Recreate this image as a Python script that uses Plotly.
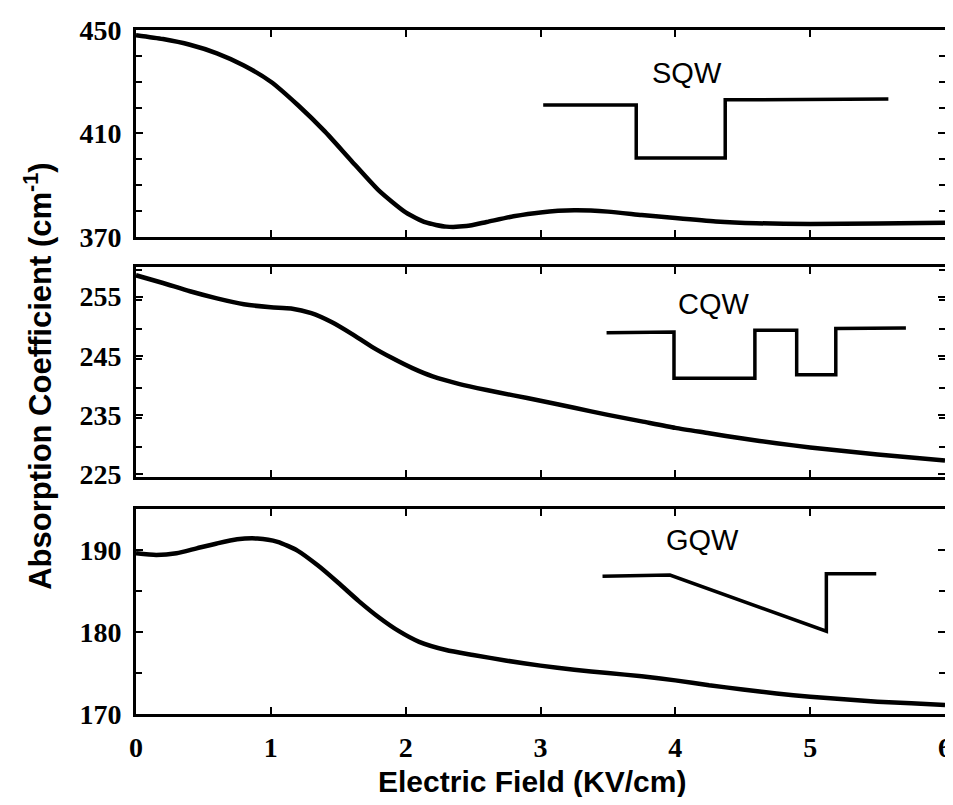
"""Electroabsorption vs electric field for three quantum-well profiles (SQW / CQW / GQW)."""

import plotly.graph_objects as go

# ---------------------------------------------------------------------------
# Data
# ---------------------------------------------------------------------------

field_sqw = [0.0, 0.2, 0.4, 0.6, 0.8, 1.0, 1.2, 1.4, 1.6, 1.8, 2.0, 2.15, 2.3, 2.45,
             2.6, 2.8, 3.0, 3.25, 3.5, 3.75, 4.0, 4.3, 4.6, 5.0, 5.5, 6.0]
alpha_sqw = [448.0, 446.5, 444.3, 441.0, 436.3, 430.0, 421.0, 410.8, 399.3, 388.0,
             379.5, 375.6, 374.0, 374.2, 375.8, 378.0, 379.5, 380.3, 379.8, 378.5,
             377.3, 376.0, 375.3, 375.0, 375.2, 375.5]

field_cqw = [0.0, 0.2, 0.4, 0.6, 0.8, 1.0, 1.15, 1.3, 1.45, 1.6, 1.75, 1.9, 2.05, 2.2,
             2.4, 2.6, 2.8, 3.0, 3.25, 3.5, 3.75, 4.0, 4.25, 4.5, 4.75, 5.0, 5.25,
             5.5, 5.75, 6.0]
alpha_cqw = [258.6, 257.3, 255.9, 254.7, 253.7, 253.2, 253.0, 252.2, 250.7, 248.7,
             246.5, 244.6, 242.9, 241.5, 240.2, 239.2, 238.3, 237.4, 236.2, 235.0,
             233.9, 232.8, 231.9, 231.0, 230.2, 229.5, 228.9, 228.3, 227.8, 227.3]

field_gqw = [0.0, 0.15, 0.3, 0.45, 0.6, 0.75, 0.9, 1.05, 1.2, 1.35, 1.5, 1.65, 1.8,
             1.95, 2.1, 2.3, 2.5, 2.75, 3.0, 3.25, 3.5, 3.75, 4.0, 4.25, 4.5, 4.75,
             5.0, 5.25, 5.5, 5.75, 6.0]
alpha_gqw = [189.6, 189.4, 189.6, 190.2, 190.8, 191.3, 191.4, 191.0, 189.9, 188.1,
             186.0, 183.8, 181.8, 180.1, 178.8, 177.8, 177.2, 176.5, 175.9, 175.4,
             175.0, 174.6, 174.1, 173.5, 173.0, 172.5, 172.1, 171.8, 171.5, 171.3,
             171.1]

# Well-profile sketches, in each panel's data units
well_sqw_x = [3.02, 3.71, 3.71, 4.37, 4.37, 5.58]
well_sqw_y = [421.0, 421.0, 400.5, 400.5, 423.0, 423.3]

well_cqw_x = [3.49, 3.99, 3.99, 4.59, 4.59, 4.90, 4.90, 5.19, 5.19, 5.71]
well_cqw_y = [248.9, 249.0, 241.2, 241.2, 249.3, 249.3, 241.8, 241.8, 249.6, 249.7]

well_gqw_x = [3.46, 3.96, 5.12, 5.12, 5.49]
well_gqw_y = [186.8, 186.95, 180.1, 187.1, 187.1]

well_labels = ["SQW", "CQW", "GQW"]
label_pos = [(4.09, 433.5), (4.29, 253.7), (4.2, 191.2)]

x_ticks = [0, 1, 2, 3, 4, 5, 6]
y_ticks = [[370, 410, 450], [225, 235, 245, 255], [170, 180, 190]]
y_ranges = [[370, 450], [224.5, 260], [170, 195]]
y_minor = [10, 5, 5]

# ---------------------------------------------------------------------------
# Figure
# ---------------------------------------------------------------------------

TICK_FONT = dict(family="Liberation Serif", size=28, color="black", weight="bold")
TITLE_FONT = dict(family="Liberation Sans", size=30, color="black", weight="bold")

# The page body adds an 8px offset; the figure is sized so nothing scrolls.
domains = [[0.6974, 1.0], [0.3465, 0.6535], [0.0, 0.2997]]
curves = [(field_sqw, alpha_sqw), (field_cqw, alpha_cqw), (field_gqw, alpha_gqw)]
wells = [(well_sqw_x, well_sqw_y), (well_cqw_x, well_cqw_y), (well_gqw_x, well_gqw_y)]

fig = go.Figure()

for idx in range(3):
    suffix = "" if idx == 0 else str(idx + 1)
    xref, yref = f"x{suffix}", f"y{suffix}"

    fig.add_trace(
        go.Scatter(
            x=curves[idx][0],
            y=curves[idx][1],
            mode="lines",
            line=dict(color="black", width=4.5, shape="spline", smoothing=0.6),
            xaxis=xref,
            yaxis=yref,
            showlegend=False,
        )
    )
    # inset sketch of the well profile
    fig.add_trace(
        go.Scatter(
            x=wells[idx][0],
            y=wells[idx][1],
            mode="lines",
            line=dict(color="black", width=3.5),
            xaxis=xref,
            yaxis=yref,
            showlegend=False,
        )
    )
    fig.add_annotation(
        x=label_pos[idx][0],
        y=label_pos[idx][1],
        xref=xref,
        yref=yref,
        text=well_labels[idx],
        showarrow=False,
        font=dict(family="Liberation Sans", size=29, color="black"),
    )

    fig.layout[f"xaxis{suffix}"] = dict(
        domain=[0, 1],
        anchor=yref,
        range=[0, 6],
        tickvals=x_ticks,
        ticks="inside",
        ticklen=7,
        tickwidth=2,
        tickcolor="black",
        showticklabels=(idx == 2),
        tickfont=TICK_FONT,
        ticklabelstandoff=6,
        ticklabeloverflow="allow",
        showline=True,
        linewidth=3,
        linecolor="black",
        mirror="ticks",
        showgrid=False,
        zeroline=False,
    )
    fig.layout[f"yaxis{suffix}"] = dict(
        domain=domains[idx],
        anchor=xref,
        range=y_ranges[idx],
        tickvals=y_ticks[idx],
        ticks="inside",
        ticklen=7,
        tickwidth=2,
        tickcolor="black",
        minor=dict(dtick=y_minor[idx], tick0=y_ranges[idx][0], ticks="inside",
                   ticklen=6, tickwidth=2, tickcolor="black"),
        tickfont=TICK_FONT,
        ticklabelstandoff=6,
        showline=True,
        linewidth=3,
        linecolor="black",
        mirror="ticks",
        showgrid=False,
        zeroline=False,
    )

fig.add_annotation(
    x=-0.1215, y=0.494, xref="paper", yref="paper",
    text="Absorption Coefficient (cm<sup>-1</sup>)",
    textangle=-90, showarrow=False,
    font=dict(TITLE_FONT, size=31),
    xanchor="center", yanchor="middle",
)
fig.add_annotation(
    x=0.49, y=-0.098, xref="paper", yref="paper",
    text="Electric Field (KV/cm)",
    showarrow=False, font=TITLE_FONT,
    xanchor="center", yanchor="middle",
)

fig.update_layout(
    width=945,
    height=789,
    margin=dict(l=128, r=1, t=22, b=83),
    paper_bgcolor="white",
    plot_bgcolor="white",
    showlegend=False,
)

fig.write_html("out.html")
